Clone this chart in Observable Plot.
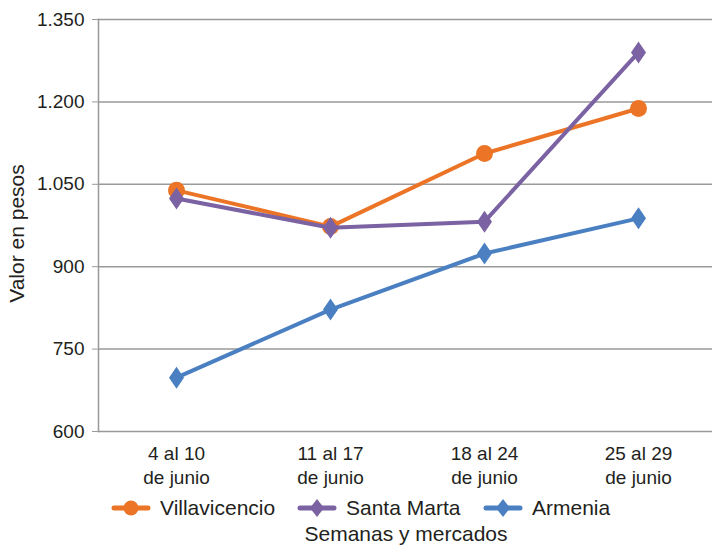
<!DOCTYPE html>
<html><head><meta charset="utf-8">
<script src="https://cdn.jsdelivr.net/npm/d3@7"></script>
<script src="https://cdn.jsdelivr.net/npm/@observablehq/plot@0.6"></script>
<style>
body{margin:0;background:#fff;font-family:"Liberation Sans",Arial,sans-serif;color:#231f20;}
#wrap{width:712px;height:546px;position:relative;overflow:hidden;}
#legend{display:flex;padding-left:112px;height:30px;align-items:center;font-size:21px;margin-top:3px;}
.item{width:186px;display:flex;align-items:center;}
.item svg{margin-right:10px;}
#title{text-align:center;font-size:21px;line-height:22px;margin-top:0px;padding-left:100px;}
</style></head>
<body><div id="wrap"></div>
<script>
const weeks = ["4 al 10\nde junio", "11 al 17\nde junio", "18 al 24\nde junio", "25 al 29\nde junio"];
const series = ["Villavicencio", "Santa Marta", "Armenia"];
const villavicencio = [1039, 973, 1106, 1188];
const santaMarta = [1024, 971, 982, 1290];
const armenia = [698, 822, 924, 988];
const yTicks = [600, 750, 900, 1050, 1200, 1350];
const colors = ["#EC7426", "#7A62A3", "#4A80C2"];

const values = [villavicencio, santaMarta, armenia];
const data = series.flatMap((s, i) => weeks.map((w, j) => ({series: s, week: w, value: values[i][j]})));

const tallDiamond = {draw(ctx) { ctx.moveTo(0, -11); ctx.lineTo(7.5, 0); ctx.lineTo(0, 11); ctx.lineTo(-7.5, 0); ctx.closePath(); }};
const symbols = [null, tallDiamond, tallDiamond];

const fmt = d3.formatLocale({decimal: ",", thousands: ".", grouping: [3], currency: ["", ""]}).format(",d");

const marks = [
  Plot.ruleY(yTicks, {stroke: "#999", strokeWidth: 1.5}),
  Plot.frame({anchor: "left", stroke: "#999", strokeWidth: 1.5}),
  Plot.axisY({ticks: yTicks, tickFormat: fmt, tickSize: 6, tickPadding: 8, stroke: "#999", label: null, fontSize: 19}),
  Plot.text(["Valor en pesos"], {frameAnchor: "left", textAnchor: "middle", rotate: -90, dx: -81, dy: 8, fontSize: 21, fill: "#231f20"}),
  Plot.axisX({tickSize: 0, tickPadding: 12, label: null, fontSize: 19, lineHeight: 1.25})
];
series.forEach((s, i) => {
  const d = data.filter(r => r.series === s);
  marks.push(Plot.line(d, {x: "week", y: "value", stroke: colors[i], strokeWidth: 4}));
  if (symbols[i]) marks.push(Plot.dot(d, {x: "week", y: "value", fill: colors[i], symbol: symbols[i], r: 8}));
  else marks.push(Plot.dot(d, {x: "week", y: "value", fill: colors[i], r: 8.5}));
});

const chart = Plot.plot({
  width: 712, height: 490,
  marginTop: 19, marginBottom: 59, marginLeft: 98, marginRight: -4,
  style: {fontFamily: "Liberation Sans, Arial, sans-serif", fontSize: "19px", color: "#231f20", background: "#fff"},
  x: {type: "point", domain: weeks, padding: 0.5},
  y: {domain: [600, 1350]},
  marks
});
const wrap = document.getElementById("wrap");
wrap.appendChild(chart);

const legend = document.createElement("div");
legend.id = "legend";
series.forEach((s, i) => {
  const item = document.createElement("div");
  item.className = "item";
  const marker = symbols[i]
    ? `<path d="M19,1 L26,10 L19,19 L12,10 Z" fill="${colors[i]}"/>`
    : `<circle cx="19" cy="10" r="7.5" fill="${colors[i]}"/>`;
  item.innerHTML = `<svg width="38" height="22" viewBox="0 -1 38 22" overflow="visible"><line x1="2" x2="36" y1="10" y2="10" stroke="${colors[i]}" stroke-width="5" stroke-linecap="round"/>${marker}</svg><span>${s}</span>`;
  legend.appendChild(item);
});
wrap.appendChild(legend);
const title = document.createElement("div");
title.id = "title";
title.textContent = "Semanas y mercados";
wrap.appendChild(title);
</script></body></html>
